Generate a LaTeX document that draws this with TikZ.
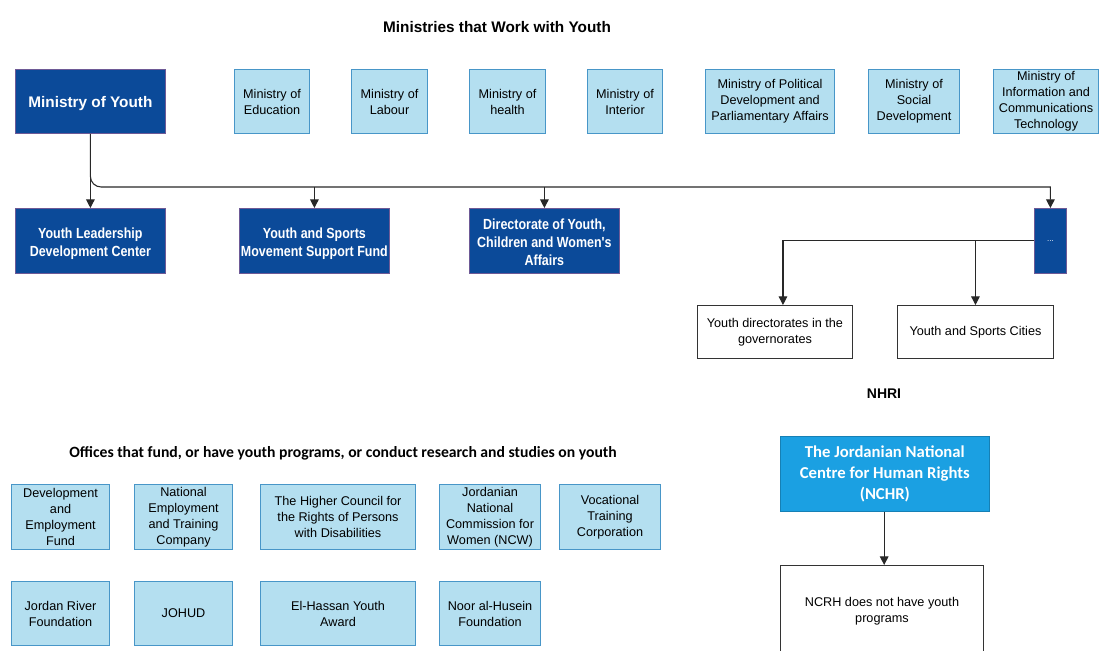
\documentclass[tikz,border=0pt]{standalone}
\usepackage{fontspec}
\setmainfont{Liberation Sans}
\newfontfamily\narrowfont{Liberation Sans}[FakeStretch=0.85]
\newfontfamily\calfont{Carlito}
\usetikzlibrary{arrows.meta}
\definecolor{dblue}{RGB}{11,74,153}
\definecolor{lblue}{RGB}{180,223,240}
\definecolor{lborder}{RGB}{72,150,200}
\definecolor{dborder}{RGB}{110,90,150}
\definecolor{nblue}{RGB}{27,160,226}
\definecolor{arr}{RGB}{40,40,40}
\begin{document}
\begin{tikzpicture}[x=0.75pt,y=-0.75pt,
  wh/.style 2 args={minimum width=#1*0.75pt,minimum height=#2*0.75pt},
  base/.style={inner sep=0pt,align=center,anchor=north west},
  darkbox/.style={base,fill=dblue,draw=dborder,line width=0.6pt,text=white,
    font=\narrowfont\bfseries\fontsize{11}{13.5}\selectfont},
  darktext/.style={inner sep=0pt,align=center,text=white,
    font=\narrowfont\bfseries\fontsize{11}{13.5}\selectfont},
  lightbox/.style={base,fill=lblue,draw=lborder,line width=0.8pt,
    font=\fontsize{9.5}{12}\selectfont},
  whitebox/.style={base,fill=white,draw=black!80,line width=0.7pt,
    font=\fontsize{9.5}{12}\selectfont},
  heading/.style={font=\bfseries\fontsize{11.5}{14}\selectfont,inner sep=0pt},
  arrow/.style={draw=arr,line width=0.8pt,-{Triangle[length=6.5pt,width=6.5pt]}}]
\useasboundingbox (0,0) rectangle (1099,650);
\clip (0,0) rectangle (1099,650);
\fill[white] (0,0) rectangle (1099,650);

% heading
\node[heading] (h1) at (497,27) {Ministries that Work with Youth};

% ministries row
\node[darkbox,wh={150}{64}] (myouth) at (15,69) {};
\node[darktext,font=\bfseries\fontsize{11.5}{14}\selectfont] (myouthtxt) at ([yshift=-1.5pt]myouth.center) {Ministry of Youth};
\node[lightbox,wh={75}{64}] (medu) at (234,69) {Ministry of\\Education};
\node[lightbox,wh={76}{64}] (mlab) at (351,69) {Ministry of\\Labour};
\node[lightbox,wh={76}{64}] (mhea) at (469,69) {Ministry of\\health};
\node[lightbox,wh={75}{64}] (mint) at (587,69) {Ministry of\\Interior};
\node[lightbox,wh={129}{64}] (mpol) at (705,69) {Ministry of Political\\Development and\\Parliamentary Affairs};
\node[lightbox,wh={91}{64}] (msoc) at (868,69) {Ministry of\\Social\\Development};
\node[lightbox,wh={105}{64}] (mict) at (993,69) {Ministry of\\Information and\\Communications\\Technology};

% second row
\node[darkbox,wh={150}{65}] (ylead) at (15,208) {};
\node[darktext] (yleadtxt) at ([yshift=-2pt]ylead.center) {Youth Leadership\\Development Center};
\node[darkbox,wh={150}{65}] (ysf) at (239,208) {};
\node[darktext] (ysftxt) at ([yshift=-2pt]ysf.center) {Youth and Sports\\Movement Support Fund};
\node[darkbox,wh={150}{65}] (dir) at (469,208) {};
\node[darktext] (dirtxt) at ([yshift=-1pt]dir.center) {Directorate of Youth,\\Children and Women's\\Affairs};
\node[darkbox,wh={32}{65},font=\fontsize{6}{7}\selectfont] (dots) at (1034,208) {...};

\node[whitebox,wh={155}{53}] (ydir) at (697,305) {Youth directorates in the\\governorates};
\node[whitebox,wh={156}{53}] (cities) at (897,305) {Youth and Sports Cities};

\coordinate (bus) at (0,187);
\draw[arrow] (myouth.south) -- (ylead.north);
\draw[arrow] (myouth.south) [rounded corners=8] |- (600,187) [sharp corners] -| (dots.north);
\draw[arrow] (ysf.north |- bus) -- (ysf.north);
\draw[arrow] (dir.north |- bus) -- (dir.north);
\draw[arrow] (dots.west) -| ([xshift=6pt]ydir.north);
\draw[arrow] (cities.north |- dots.west) -- (cities.north);

% NHRI
\node[heading,font=\bfseries\fontsize{10.5}{13}\selectfont] (nhri) at (884,394) {NHRI};
\node[base,fill=nblue,draw=nblue!80!black,line width=0.5pt,text=white,wh={209}{75},
  font=\calfont\bfseries\fontsize{12.5}{16}\selectfont] (nchr) at (780,436)
  {The Jordanian National\\Centre for Human Rights\\(NCHR)};
\node[whitebox,wh={203}{92}] (ncrh) at (780,565) {NCRH does not have youth\\programs};
\draw[arrow] ([xshift=-0.5pt]nchr.south) -- ([xshift=-0.5pt]nchr.south |- ncrh.north);

% offices
\node[heading,font=\calfont\bfseries\fontsize{11.75}{14}\selectfont] (h2) at (343,453)
  {Offices that fund, or have youth programs, or conduct research and studies on youth};
\node[lightbox,wh={98}{65}] (o1) at (11,484) {Development\\and\\Employment\\Fund};
\node[lightbox,wh={98}{65}] (o2) at (134,484) {National\\Employment\\and Training\\Company};
\node[lightbox,wh={155}{65}] (o3) at (260,484) {The Higher Council for\\the Rights of Persons\\with Disabilities};
\node[lightbox,wh={101}{65}] (o4) at (439,484) {Jordanian\\National\\Commission for\\Women (NCW)};
\node[lightbox,wh={101}{65}] (o5) at (559,484) {Vocational\\Training\\Corporation};
\node[lightbox,wh={98}{64}] (o6) at (11,581) {Jordan River\\Foundation};
\node[lightbox,wh={98}{64}] (o7) at (134,581) {JOHUD};
\node[lightbox,wh={155}{64}] (o8) at (260,581) {El-Hassan Youth\\Award};
\node[lightbox,wh={101}{64}] (o9) at (439,581) {Noor al-Husein\\Foundation};
\end{tikzpicture}
\end{document}
